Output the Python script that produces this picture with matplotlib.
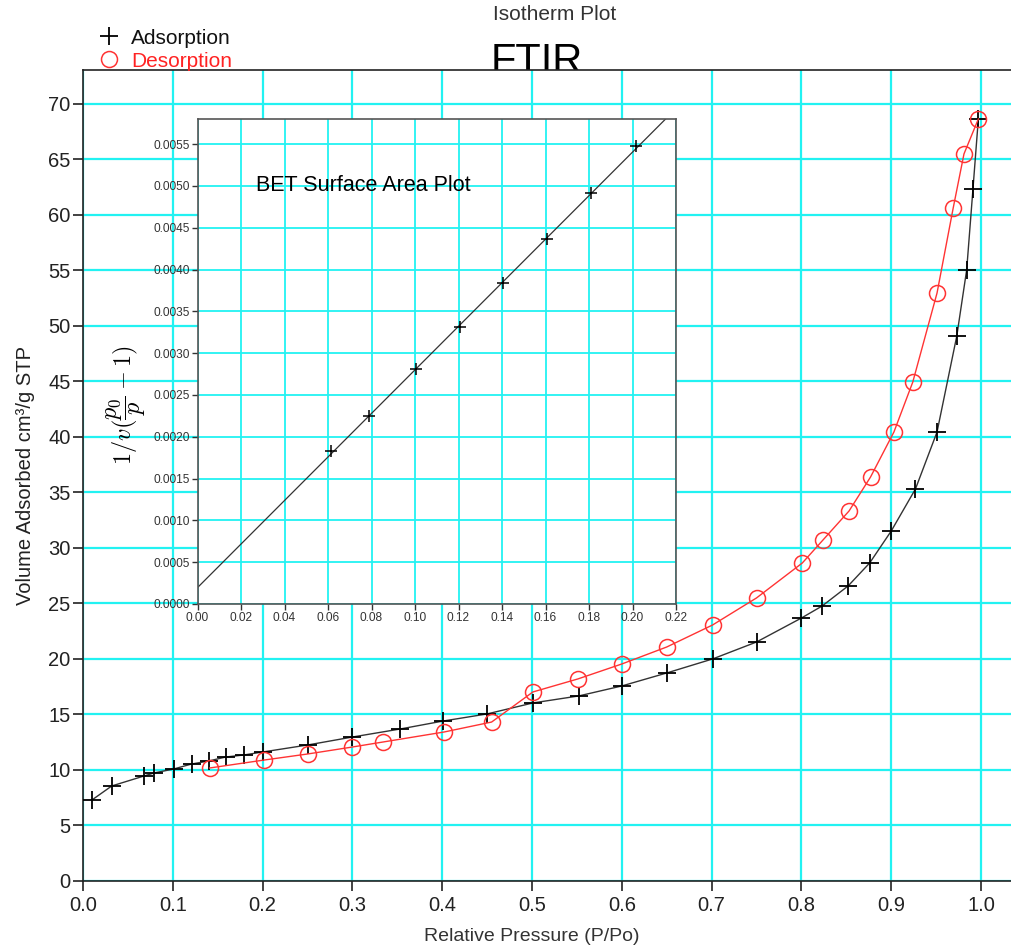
import numpy as np
import matplotlib
matplotlib.use("Agg")
import matplotlib.pyplot as plt
from matplotlib.lines import Line2D

plt.rcParams['font.family'] = ['Liberation Sans', 'DejaVu Sans']
plt.rcParams['mathtext.fontset'] = 'cm'

# ---------------- data ----------------
ads_x = [0.010, 0.032, 0.068, 0.079, 0.101, 0.121, 0.140, 0.159, 0.179, 0.200,
         0.250, 0.300, 0.353, 0.401, 0.450, 0.501, 0.552, 0.600, 0.650, 0.701,
         0.750, 0.800, 0.823, 0.852, 0.876, 0.900, 0.927, 0.951, 0.973, 0.984,
         0.991, 0.997]
ads_y = [7.30, 8.56, 9.46, 9.73, 10.09, 10.54, 10.81, 11.17, 11.35, 11.62,
         12.25, 12.97, 13.69, 14.41, 15.05, 16.04, 16.67, 17.57, 18.74, 20.00,
         21.53, 23.69, 24.77, 26.58, 28.65, 31.53, 35.32, 40.45, 49.10, 55.05,
         62.34, 68.65]

des_x = [0.141, 0.202, 0.250, 0.300, 0.334, 0.402, 0.455, 0.501, 0.551, 0.600,
         0.650, 0.701, 0.750, 0.801, 0.824, 0.853, 0.877, 0.903, 0.924, 0.951,
         0.969, 0.981, 0.997]
des_y = [10.18, 10.90, 11.44, 12.07, 12.52, 13.42, 14.32, 17.03, 18.20, 19.55,
         21.08, 23.06, 25.50, 28.65, 30.72, 33.33, 36.40, 40.45, 44.95, 52.97,
         60.63, 65.50, 68.65]

bet_x = [0.0615, 0.0787, 0.1004, 0.1205, 0.1406, 0.1608, 0.1810, 0.2017]
bet_y = [0.001824, 0.002249, 0.002806, 0.003314, 0.003839, 0.004367, 0.004912, 0.005480]

main_xticks = [0.0, 0.1, 0.2, 0.3, 0.4, 0.5, 0.6, 0.7, 0.8, 0.9, 1.0]
main_yticks = [0, 5, 10, 15, 20, 25, 30, 35, 40, 45, 50, 55, 60, 65, 70]
bet_xticks = [0.00, 0.02, 0.04, 0.06, 0.08, 0.10, 0.12, 0.14, 0.16, 0.18, 0.20, 0.22]
bet_yticks = [0.0000, 0.0005, 0.0010, 0.0015, 0.0020, 0.0025, 0.0030, 0.0035,
              0.0040, 0.0045, 0.0050, 0.0055]

GRID = '#22F2F2'

fig = plt.figure(figsize=(10.11, 9.47), dpi=100)

# ---------------- main axes ----------------
ax = fig.add_axes([0.0821, 0.0697, 0.9238, 0.8564])
ax.set_facecolor('white')
ax.set_xlim(0, 1.04)
ax.set_ylim(0, 73.06)
ax.set_xticks(main_xticks)
ax.set_xticklabels([f"{v:.1f}" for v in main_xticks])
ax.set_yticks(main_yticks)
ax.grid(True, color=GRID, linewidth=1.6, zorder=0)
ax.set_axisbelow(True)
ax.tick_params(direction='out', length=7, width=1.2, labelsize=14.5, pad=2,
               colors='#222222')
ax.tick_params(axis='x', pad=4)
for s in ax.spines.values():
    s.set_color('#222222')
    s.set_linewidth(1.2)

ax.plot(ads_x, ads_y, color='#333333', lw=1.0, marker='+', ms=13, mew=1.3,
        mfc='none', mec='black', zorder=3)
ax.plot(des_x, des_y, color='#FF3333', lw=1.0, marker='o', ms=11.5, mew=1.1,
        mfc='none', mec='#FF3333', zorder=3)

ax.set_xlabel('Relative Pressure (P/Po)', fontsize=14, color='#333333',
              va='center')
ax.xaxis.set_label_coords(0.48, -0.069)
ax.set_ylabel('Volume Adsorbed cm³/g STP', fontsize=14.5, color='#222222',
              va='center')
ax.yaxis.set_label_coords(-0.062, 0.50)

# ---------------- titles ----------------
fig.text(555 / 1011, 1 - 15 / 947, 'Isotherm Plot', ha='center', va='center',
         fontsize=15, color='#333333')
fig.text(537 / 1011, 1 - 73 / 947, 'FTIR', ha='center', va='baseline',
         fontsize=30, color='black', zorder=-1)

# ---------------- legend ----------------
handles = [Line2D([], [], ls='none', marker='+', ms=13, mew=1.3, color='black'),
           Line2D([], [], ls='none', marker='o', ms=11.5, mew=1.1, mfc='none',
                  mec='#FF3333')]
fig.legend(handles, ['Adsorption', 'Desorption'], loc='upper left',
           bbox_to_anchor=(0.083, 0.985), frameon=False, fontsize=15,
           labelcolor=['#111111', '#FF2222'], handlelength=1.0,
           handletextpad=0.55, labelspacing=0.18, borderpad=0.2)

# ---------------- inset BET ----------------
ax2 = fig.add_axes([0.1954, 0.3622, 0.4733, 0.5121])
ax2.set_facecolor('white')
ax2.set_xlim(0, 0.22)
ax2.set_ylim(0, 0.0058)
ax2.set_xticks(bet_xticks)
ax2.set_xticklabels([f"{v:.2f}" for v in bet_xticks])
ax2.set_yticks(bet_yticks)
ax2.set_yticklabels([f"{v:.4f}" for v in bet_yticks])
ax2.grid(True, color=GRID, linewidth=1.3, zorder=0)
ax2.set_axisbelow(True)
ax2.tick_params(direction='out', length=4, width=1.0, labelsize=8.6, pad=1.5,
                colors='#333333')
for s in ax2.spines.values():
    s.set_color('#555555')
    s.set_linewidth(1.2)

slope, intercept = np.polyfit(bet_x, bet_y, 1)
fit_x = np.array([0.0, 0.23])
ax2.plot(fit_x, slope * fit_x + intercept, color='#333333', lw=0.9, zorder=2)
ax2.plot(bet_x, bet_y, ls='none', marker='+', ms=8, mew=1.1, color='black',
         zorder=3)
ax2.text(0.027, 0.0050, 'BET Surface Area Plot', fontsize=15.5, color='black',
         va='center', ha='left')
ax2.set_ylabel(r'$1/v(\dfrac{p_0}{p}-1)$', fontsize=17.5, va='center')
ax2.yaxis.set_label_coords(-0.150, 0.41)

fig.savefig('out.png', dpi=100)
